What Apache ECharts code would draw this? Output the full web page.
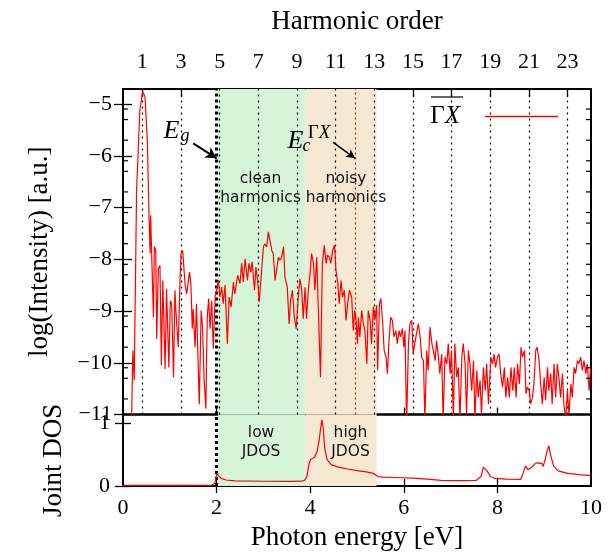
<!DOCTYPE html>
<html><head><meta charset="utf-8">
<script src="https://cdn.jsdelivr.net/npm/echarts@6/dist/echarts.min.js"></script>
<style>html,body{margin:0;padding:0;background:#fff}#c{width:616px;height:552px}</style>
</head><body><div id="c"></div>
<script>
// ---------------- data ----------------
const energy = [0.18,0.21,0.24,0.29,0.36,0.42,0.47,0.52,0.56,0.58,0.59,0.62,0.65,0.67,0.70,0.72,0.755,0.79,0.82,0.85,0.87,0.90,0.93,0.96,0.98,1.01,1.04,1.08,1.11,1.13,1.18,1.22,1.24,1.275,1.325,1.36,1.42,1.45,1.48,1.50,1.54,1.57,1.61,1.63,1.67,1.70,1.73,1.77,1.80,1.83,1.86,1.895,1.93,1.97,2.00,2.04,2.07,2.11,2.14,2.18,2.23,2.27,2.31,2.36,
2.39,2.45,2.50,2.535,2.57,2.61,2.66,2.69,2.73,2.76,2.81,2.84,2.88,2.91,2.95,3.00,3.03,3.07,3.105,3.14,3.18,3.21,3.25,3.28,3.32,3.355,3.39,3.43,3.46,3.51,3.55,3.58,3.62,3.66,3.70,3.75,3.78,3.82,3.85,3.89,3.92,3.96,4.00,4.03,4.07,4.10,4.14,4.17,4.22,4.26,4.30,4.34,4.37,4.41,4.44,4.48,4.52,4.55,4.59,4.62,4.66,4.69,4.73,4.765,4.80,4.84,
4.886,4.92,4.95,4.98,5.01,5.03,5.06,5.10,5.135,5.17,5.21,5.24,5.28,5.31,5.35,5.38,5.42,5.44,5.48,5.51,5.55,5.58,5.62,5.65,5.68,5.72,5.755,5.79,5.83,5.86,5.90,5.93,5.97,6.00,6.025,6.06,6.10,6.13,6.17,6.20,6.24,6.27,6.31,6.35,6.38,6.42,6.45,6.49,6.52,6.56,6.60,6.63,6.67,6.70,6.74,6.77,6.81,6.84,6.88,6.92,6.95,6.99,7.02,7.06,7.09,7.13,7.165,7.20,7.24,7.27,7.31,7.34,7.38,
7.415,7.45,7.49,7.52,7.56,7.59,7.63,7.66,7.70,7.74,7.77,7.81,7.86,7.90,7.93,7.96,8.00,8.035,8.07,8.11,8.15,8.18,8.22,8.255,8.29,8.33,8.36,8.40,8.43,8.47,8.505,8.54,8.58,8.61,8.64,8.68,8.71,8.75,8.78,8.82,8.85,8.89,8.925,8.96,9.00,9.03,9.07,9.10,9.14,9.17,9.21,9.245,9.28,9.32,9.35,9.39,9.42,9.46,9.495,9.53,9.57,9.60,9.64,9.67,9.71,9.74,9.78,9.815,9.85,9.89,9.92,9.96,9.99];
const logIntensity = [-11.3,-9.76,-10.34,-6.67,-5.12,-4.76,-4.86,-5.70,-7.31,-7.89,-7.15,-7.18,-9.12,-7.76,-7.83,-9.54,-8.18,-8.12,-10.05,-8.41,-8.44,-10.12,-8.57,-8.54,-10.09,-8.80,-8.86,-10.28,-8.60,-8.99,-9.70,-8.34,-7.89,-7.83,-8.47,-8.67,-8.25,-8.47,-9.34,-8.96,-9.70,-8.86,-8.89,-10.80,-8.99,-9.31,-10.28,-10.89,-9.12,-8.76,-9.34,-8.80,-9.73,-8.70,-8.60,-8.41,-8.73,-8.54,-8.86,-8.50,-9.63,-8.73,-8.92,-8.44,
-8.67,-8.31,-8.47,-8.08,-8.44,-7.99,-8.41,-8.08,-8.25,-8.05,-8.60,-8.15,-8.44,-8.83,-8.80,-7.76,-7.70,-7.76,-7.47,-7.50,-7.83,-7.89,-8.41,-8.44,-7.96,-8.02,-7.96,-7.76,-8.34,-8.54,-9.25,-8.80,-8.60,-9.12,-9.34,-8.67,-8.38,-8.60,-9.15,-8.54,-9.15,-8.60,-8.25,-7.89,-8.08,-8.60,-7.96,-8.86,-10.28,-8.08,-7.73,-8.08,-7.92,-7.96,-8.08,-7.83,-7.73,-8.21,-8.47,-8.86,-8.41,-8.73,-8.60,-9.18,-8.86,-8.60,
-8.73,-9.38,-8.99,-9.18,-9.63,-9.12,-9.50,-8.99,-9.25,-9.38,-10.02,-8.99,-9.18,-9.63,-8.92,-9.18,-8.89,-10.15,-8.86,-8.76,-9.25,-9.76,-9.89,-10.21,-9.63,-9.12,-9.18,-9.50,-9.38,-9.63,-9.38,-9.50,-9.34,-9.70,-9.38,-11.2,-9.63,-9.25,-9.18,-9.83,-9.83,-9.44,-9.25,-9.50,-9.89,-9.96,-11.1,-9.76,-10.15,-9.31,-9.63,-9.76,-9.96,-9.57,-9.89,-10.21,-9.83,-11.1,-9.89,-10.02,-9.63,-10.21,-9.76,-11.1,-9.63,-10.28,-10.09,-11.1,-9.89,-9.63,-10.02,-11.0,-9.76,
-10.02,-10.54,-9.96,-11.1,-10.15,-10.67,-10.34,-11.0,-10.09,-10.54,-10.02,-10.80,-9.89,-10.02,-9.83,-10.09,-9.89,-9.83,-10.21,-10.47,-10.09,-10.67,-10.28,-10.67,-10.09,-10.54,-10.09,-10.67,-10.02,-10.41,-9.70,-9.89,-9.76,-10.60,-10.47,-10.54,-10.80,-10.67,-10.41,-9.76,-9.70,-9.96,-10.41,-10.80,-10.28,-10.73,-10.09,-10.54,-10.21,-10.80,-10.02,-10.67,-10.02,-10.34,-10.67,-10.21,-10.80,-11.1,-10.54,-11.0,-10.41,-10.67,-10.09,-10.21,-9.96,-10.02,-9.89,-10.15,-9.96,-10.21,-10.02,-10.54,-10.09];

const jdosEnergy = [0,1.0,1.9,1.96,1.99,2.01,2.04,2.1,2.2,2.4,3.0,3.6,3.82,3.88,3.93,3.97,4.01,4.05,4.1,4.15,4.19,4.22,4.25,4.28,4.31,4.36,4.45,4.6,4.8,5.0,5.2,5.35,5.45,5.55,5.8,6.2,6.5,6.8,7.0,7.3,7.55,7.65,7.7,7.74,7.78,7.85,7.95,8.2,8.5,8.55,8.6,8.65,8.7,8.75,8.8,8.85,8.9,8.95,8.98,9.03,9.07,9.1,9.14,9.2,9.3,9.5,9.75,10.0];
const jdos = [0.01,0.01,0.015,0.04,0.15,0.2,0.16,0.12,0.095,0.082,0.075,0.072,0.076,0.09,0.15,0.34,0.42,0.40,0.46,0.56,0.72,0.9,1.05,0.9,0.6,0.42,0.34,0.3,0.27,0.245,0.225,0.2,0.15,0.14,0.135,0.125,0.11,0.09,0.085,0.085,0.09,0.15,0.3,0.32,0.24,0.15,0.12,0.11,0.105,0.2,0.32,0.26,0.28,0.31,0.35,0.37,0.36,0.36,0.31,0.45,0.58,0.64,0.48,0.32,0.24,0.2,0.18,0.165];

const harmonicOrders = [1,3,5,7,9,11,13,15,17,19,21,23];
const fundamentalEnergy = 0.413;          // eV
const energyTicks = [0,2,4,6,8,10];
const yTicks = [-11,-10,-9,-8,-7,-6,-5];
const yMinorTicks = [-10.699,-10.301,-10.097,-9.699,-9.301,-9.097,-8.699,-8.301,-8.097,-7.699,-7.301,-7.097,-6.699,-6.301,-6.097,-5.699,-5.301,-5.097];
const jdosTicks = [0,1];
const gapEnergy = 2.0;       // E_g
const cutoffEnergy = 4.96;   // E_c^{GammaX}
const cleanRegion = [2.03, 3.9];
const noisyRegion = [3.9, 5.42];

// ---------------- chart ----------------
const SERIF = 'Liberation Serif';
const SANS = 'DejaVu Sans';
const GREEN = '#d6f5d8';
const TAN = '#f6e9d3';
const chart = echarts.init(document.getElementById('c'), null, {renderer:'canvas'});

const pairs = (xs, ys) => xs.map((x,i)=>[x, ys[i]]);
const minus = v => (v < 0 ? '\u2212' + Math.abs(v) : String(v));
const tick = (vals, len) => ({show:true, inside:true, length:len||8, customValues: vals, lineStyle:{color:'#000', width:1.3}});
const noLabel = {show:false};

function textPoint(x, y, text, style) {
  return {coord:[x,y], symbol:'circle', symbolSize:1, itemStyle:{color:'rgba(0,0,0,0)'},
    label:Object.assign({show:true, position:'inside', formatter:text, color:'#111'}, style)};
}
const sansStyle = {fontFamily:SANS, fontSize:15.5, lineHeight:19, align:'center'};

const option = {
  animation:false,
  backgroundColor:'#fff',
  grid:[
    {left:123, top:89, width:468, height:325.5, show:true, borderColor:'#000', borderWidth:2, backgroundColor:'transparent'},
    {left:123, top:414.5, width:468, height:72, show:true, borderColor:'#000', borderWidth:2, backgroundColor:'transparent'}
  ],
  legend:{
    right:53, top:99, align:'right', icon:'rect', itemWidth:73, itemHeight:1.5,
    data:['ΓX'],
    formatter:()=>'{g|Γ}{x|X}',
    textStyle:{padding:[0,20,0,0], rich:{
      g:{fontFamily:SERIF, fontSize:25, color:'#000'},
      x:{fontFamily:SERIF, fontSize:25, fontStyle:'italic', color:'#000'}
    }}
  },
  xAxis:[
    {type:'value', gridIndex:0, min:0, max:10, interval:2, axisLine:{show:false}, splitLine:{show:false},
     axisTick:tick(energyTicks.slice(1,-1),7), axisLabel:noLabel},
    {type:'value', gridIndex:0, position:'top', min:0, max:10/fundamentalEnergy, axisLine:{show:false}, splitLine:{show:false},
     axisTick:tick(harmonicOrders,8),
     axisLabel:{show:true, customValues:harmonicOrders, fontFamily:SERIF, fontSize:22, color:'#000', margin:16},
     name:'Harmonic order', nameLocation:'middle', nameGap:54,
     nameTextStyle:{fontFamily:SERIF, fontSize:27, color:'#000'}},
    {type:'value', gridIndex:1, min:0, max:10, interval:2, axisLine:{show:false}, splitLine:{show:false},
     axisTick:tick(energyTicks.slice(1,-1),7),
     axisLabel:{show:true, fontFamily:SERIF, fontSize:22, color:'#000', margin:11, customValues:energyTicks},
     name:'Photon energy [eV]', nameLocation:'middle', nameGap:38,
     nameTextStyle:{fontFamily:SERIF, fontSize:27, color:'#000'}},
    {type:'value', gridIndex:1, position:'top', min:0, max:10, interval:2, axisLine:{show:false}, splitLine:{show:false},
     axisTick:tick(energyTicks.slice(1,-1),7), axisLabel:noLabel}
  ],
  yAxis:[
    {type:'value', gridIndex:0, min:-11, max:-4.71, axisLine:{show:false}, splitLine:{show:false},
     axisTick:tick(yTicks,9),
     axisLabel:{show:true, customValues:yTicks, formatter:minus, fontFamily:SERIF, fontSize:22, color:'#000', margin:11},
     name:'log(Intensity) [a.u.]', nameLocation:'middle', nameGap:70,
     nameTextStyle:{fontFamily:SERIF, fontSize:27, color:'#000'}},
    {type:'value', gridIndex:0, position:'right', min:-11, max:-4.71, axisLine:{show:false}, splitLine:{show:false},
     axisTick:tick(yTicks,9), axisLabel:noLabel},
    {type:'value', gridIndex:1, min:0, max:1.134, axisLine:{show:false}, splitLine:{show:false},
     axisTick:tick(jdosTicks,8),
     axisLabel:{show:true, customValues:jdosTicks, fontFamily:SERIF, fontSize:22, color:'#000', margin:13},
     name:'Joint DOS', nameLocation:'middle', nameGap:56,
     nameTextStyle:{fontFamily:SERIF, fontSize:27, color:'#000', padding:[0,20,0,0]}},
    {type:'value', gridIndex:1, position:'right', min:0, max:1.134, axisLine:{show:false}, splitLine:{show:false},
     axisTick:tick(jdosTicks,8), axisLabel:noLabel}
  ],
  series:[
    {type:'line', xAxisIndex:0, yAxisIndex:0, data:[], z:1, silent:true,
     markArea:{silent:true, data:[
       [{xAxis:cleanRegion[0], itemStyle:{color:GREEN}},{xAxis:cleanRegion[1]}],
       [{xAxis:noisyRegion[0], itemStyle:{color:TAN}},{xAxis:noisyRegion[1]}]
     ]},
     markPoint:{silent:true, data:[
       textPoint(2.94,-6.63,'clean\nharmonics',sansStyle),
       textPoint(4.765,-6.63,'noisy\nharmonics',sansStyle)
     ]}
    },
    {type:'line', xAxisIndex:1, yAxisIndex:0, data:[], z:2, silent:true,
     markLine:{silent:true, symbol:['none','none'], label:{show:false},
       lineStyle:{color:'#000', width:1.2, type:[2,4]},
       data:harmonicOrders.map(n=>({xAxis:n}))}
    },
    {type:'line', xAxisIndex:0, yAxisIndex:0, data:[], z:4, silent:true,
     markLine:{silent:true, symbol:['none','none'], label:{show:false}, data:[
       {xAxis:gapEnergy, lineStyle:{color:'#000', width:3, type:[3,3]}},
       {xAxis:cutoffEnergy, lineStyle:{color:'#e00', width:1.2, type:[2,3]}},
       [{coord:[1.50,-5.76], symbol:'none', lineStyle:{color:'#000', width:2, type:'solid'}},
        {coord:[gapEnergy,-6.05], symbol:'arrow', symbolSize:[9,11]}],
       [{coord:[4.49,-5.74], symbol:'none', lineStyle:{color:'#000', width:1.5, type:'solid'}},
        {coord:[cutoffEnergy,-6.05], symbol:'arrow', symbolSize:[7,9]}]
     ]},
     markPoint:{silent:true, data:[
       textPoint(1.036,-5.52,'E',{fontFamily:SERIF, fontSize:26, fontStyle:'italic', color:'#000'}),
       textPoint(1.325,-5.62,'g',{fontFamily:SERIF, fontSize:18, fontStyle:'italic', color:'#000'}),
       textPoint(3.686,-5.715,'E',{fontFamily:SERIF, fontSize:26, fontStyle:'italic', color:'#000'}),
       textPoint(3.92,-5.82,'c',{fontFamily:SERIF, fontSize:18, fontStyle:'italic', color:'#000'}),
       textPoint(4.19,-5.56,'{g|Γ}{x|X}',{rich:{g:{fontFamily:SERIF, fontSize:19, color:'#000'}, x:{fontFamily:SERIF, fontSize:19, fontStyle:'italic', color:'#000'}}})
     ]}
    },
    {name:'ΓX', type:'line', xAxisIndex:0, yAxisIndex:0, z:5, showSymbol:false, symbol:'none',
     data:pairs(energy, logIntensity), lineStyle:{color:'#ff0000', width:1.2}, itemStyle:{color:'#ff0000'}},
    {type:'custom', xAxisIndex:0, yAxisIndex:0, z:6, silent:true, clip:false,
     data:yMinorTicks.map(v=>[0,v]),
     renderItem:(params, api)=>{
       const p = api.coord([0, api.value(1)]);
       const cs = params.coordSys;
       return {type:'group', children:[
         {type:'line', shape:{x1:cs.x, y1:p[1], x2:cs.x+5, y2:p[1]}, style:{stroke:'#000', lineWidth:1.2}},
         {type:'line', shape:{x1:cs.x+cs.width-5, y1:p[1], x2:cs.x+cs.width, y2:p[1]}, style:{stroke:'#000', lineWidth:1.2}}
       ]};
     }
    },
    {type:'line', xAxisIndex:2, yAxisIndex:2, data:[], z:1, silent:true,
     markArea:{silent:true, data:[
       [{xAxis:cleanRegion[0], itemStyle:{color:GREEN}},{xAxis:cleanRegion[1]}],
       [{xAxis:noisyRegion[0], itemStyle:{color:TAN}},{xAxis:noisyRegion[1]}]
     ]},
     markLine:{silent:true, symbol:['none','none'], label:{show:false},
       data:[{xAxis:gapEnergy, lineStyle:{color:'#000', width:3, type:[3,3]}}]},
     markPoint:{silent:true, data:[
       textPoint(2.95,0.685,'low\nJDOS',sansStyle),
       textPoint(4.86,0.685,'high\nJDOS',sansStyle)
     ]}
    },
    {name:'JDOS', type:'line', xAxisIndex:2, yAxisIndex:2, z:5, showSymbol:false, symbol:'none',
     data:pairs(jdosEnergy, jdos), lineStyle:{color:'#ff0000', width:1.2}}
  ],
  graphic:[
    {type:'line', shape:{x1:431, y1:97, x2:463, y2:97}, style:{stroke:'#000', lineWidth:1.2}, z:10}
  ]
};
chart.setOption(option);
</script>
</body></html>
